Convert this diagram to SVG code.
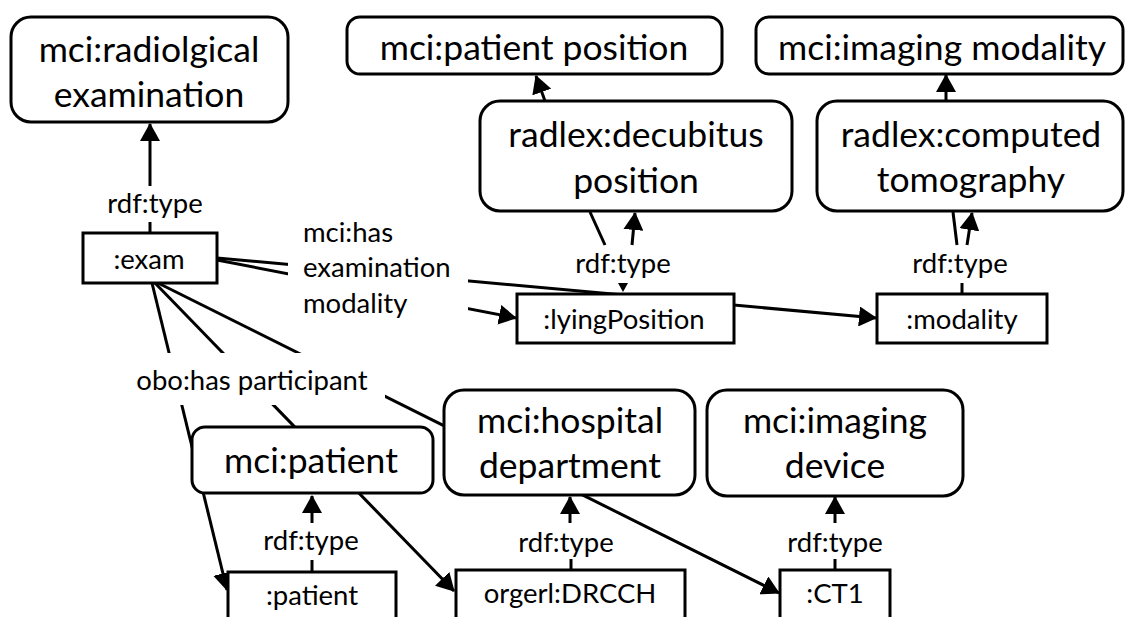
<svg xmlns="http://www.w3.org/2000/svg" width="1126" height="617" viewBox="0 0 1126 617">
  <style>
    .cls { fill: #ffffff; stroke: #000000; stroke-width: 3; }
    .inst { fill: #ffffff; stroke: #000000; stroke-width: 3; }
    .big { font-family: Lato, "Liberation Sans", sans-serif; font-size: 35.5px; fill: #000000; text-anchor: middle; }
    .small { font-family: Lato, "Liberation Sans", sans-serif; font-size: 27.5px; fill: #000000; text-anchor: middle; }
    .left { text-anchor: start; }
    .edge { fill: none; stroke: #000000; stroke-width: 3; }
    .arrow { marker-end: url(#ah); }
    .lblbg { fill: #ffffff; stroke: none; }
  </style>
  <defs>
    <marker id="ah" markerUnits="userSpaceOnUse" viewBox="0 0 18 20" markerWidth="18" markerHeight="20" refX="17" refY="10" orient="auto">
      <path d="M0,0 L18,10 L0,20 z" fill="#000000"/>
    </marker>
  </defs>

  <rect width="1126" height="617" fill="#ffffff"/>

  <!-- connectors -->
  <g id="connectors">
    <!-- :exam rdf:type radiological examination -->
    <line class="edge arrow" x1="150" y1="186" x2="150" y2="124"/>
    <line class="edge" x1="150" y1="222" x2="150" y2="233"/>

    <!-- mci:has examination modality -->
    <line class="edge arrow" x1="217" y1="258" x2="876" y2="318"/>
    <line class="edge arrow" x1="217" y1="260" x2="516" y2="318"/>
    <rect class="lblbg" x="288" y="222" width="180" height="100"/>

    <!-- decubitus / lyingPosition type links -->
    <line class="edge arrow" x1="545" y1="101" x2="536" y2="76"/>
    <line class="edge" x1="590" y1="212" x2="605" y2="245"/>
    <line class="edge arrow" x1="632" y1="245" x2="635" y2="213"/>
    <polygon points="618,283 628,283 623,292" fill="#000000"/>

    <!-- computed tomography / modality type links -->
    <line class="edge arrow" x1="946" y1="101" x2="946" y2="75"/>
    <line class="edge" x1="953" y1="212" x2="957" y2="245"/>
    <line class="edge arrow" x1="967" y1="245" x2="972" y2="213"/>
    <line class="edge" x1="962" y1="283" x2="962" y2="294" stroke-width="4"/>

    <!-- obo:has participant -->
    <line class="edge arrow" x1="152" y1="283" x2="227" y2="590"/>
    <line class="edge arrow" x1="155" y1="283" x2="454" y2="591"/>
    <line class="edge arrow" x1="158" y1="283" x2="779" y2="593"/>
    <rect class="lblbg" x="128" y="353" width="257" height="52"/>

    <!-- instance type links (bottom row) -->
    <line class="edge arrow" x1="312" y1="523" x2="312" y2="496"/>
    <line class="edge" x1="312" y1="560" x2="312" y2="572"/>
    <line class="edge arrow" x1="570" y1="523" x2="570" y2="497"/>
    <line class="edge" x1="571" y1="559" x2="571" y2="570"/>
    <line class="edge arrow" x1="835" y1="523" x2="835" y2="497"/>
    <line class="edge" x1="835" y1="559" x2="835" y2="570"/>
  </g>

  <!-- edge labels -->
  <g id="edge-labels">
    <text class="small" x="155" y="213">rdf:type</text>
    <text class="small" x="623" y="273">rdf:type</text>
    <text class="small" x="960" y="273">rdf:type</text>
    <text class="small" x="311" y="550">rdf:type</text>
    <text class="small" x="566" y="552">rdf:type</text>
    <text class="small" x="835" y="552">rdf:type</text>
    <text class="small left" x="303" y="242">mci:has</text>
    <text class="small left" x="303" y="277">examination</text>
    <text class="small left" x="303" y="313">modality</text>
    <text class="small" x="252" y="390">obo:has participant</text>
  </g>

  <!-- class nodes -->
  <g id="radiological-examination">
    <rect class="cls" x="11" y="17" width="277" height="105" rx="20"/>
    <text class="big" x="149" y="62">mci:radiolgical</text>
    <text class="big" x="149" y="107">examination</text>
  </g>
  <g id="patient-position">
    <rect class="cls" x="347" y="17" width="375" height="57" rx="13"/>
    <text class="big" x="534" y="60">mci:patient position</text>
  </g>
  <g id="imaging-modality">
    <rect class="cls" x="756" y="17" width="367" height="57" rx="13"/>
    <text class="big" x="942" y="60">mci:imaging modality</text>
  </g>
  <g id="decubitus-position">
    <rect class="cls" x="480" y="101" width="312" height="110" rx="20"/>
    <text class="big" x="636" y="147">radlex:decubitus</text>
    <text class="big" x="636" y="193">position</text>
  </g>
  <g id="computed-tomography">
    <rect class="cls" x="817" y="101" width="306" height="110" rx="20"/>
    <text class="big" x="971" y="147">radlex:computed</text>
    <text class="big" x="971" y="192">tomography</text>
  </g>
  <g id="patient-class">
    <rect class="cls" x="192" y="427" width="241" height="66" rx="13"/>
    <text class="big" x="311" y="473">mci:patient</text>
  </g>
  <g id="hospital-department">
    <rect class="cls" x="444" y="390" width="251" height="105" rx="20"/>
    <text class="big" x="570" y="433">mci:hospital</text>
    <text class="big" x="570" y="478">department</text>
  </g>
  <g id="imaging-device">
    <rect class="cls" x="707" y="390" width="256" height="106" rx="20"/>
    <text class="big" x="835" y="433">mci:imaging</text>
    <text class="big" x="835" y="478">device</text>
  </g>

  <!-- instance nodes -->
  <g id="exam">
    <rect class="inst" x="83" y="233" width="134" height="50"/>
    <text class="small" x="149" y="269">:exam</text>
  </g>
  <g id="lyingPosition">
    <rect class="inst" x="517" y="294" width="217" height="49"/>
    <text class="small" x="624" y="329">:lyingPosition</text>
  </g>
  <g id="modality">
    <rect class="inst" x="877" y="294" width="170" height="49"/>
    <text class="small" x="962" y="329">:modality</text>
  </g>
  <g id="patient">
    <rect class="inst" x="228" y="572" width="168" height="60"/>
    <text class="small" x="312" y="605">:patient</text>
  </g>
  <g id="DRCCH">
    <rect class="inst" x="456" y="570" width="229" height="60"/>
    <text class="small" x="570" y="603">orgerl:DRCCH</text>
  </g>
  <g id="CT1">
    <rect class="inst" x="780" y="570" width="110" height="60"/>
    <text class="small" x="835" y="603">:CT1</text>
  </g>
</svg>
